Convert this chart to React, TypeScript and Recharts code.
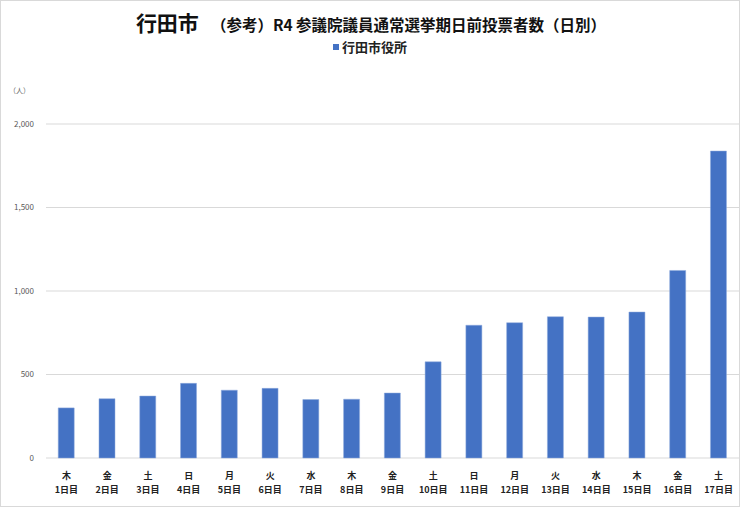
import React from 'react';
import { BarChart, Bar, XAxis, YAxis, CartesianGrid, Legend } from 'recharts';

const weekdays = ['木', '金', '土', '日', '月', '火', '水', '木', '金', '土', '日', '月', '火', '水', '木', '金', '土'];
const dayLabels = ['1日目', '2日目', '3日目', '4日目', '5日目', '6日目', '7日目', '8日目', '9日目', '10日目', '11日目', '12日目', '13日目', '14日目', '15日目', '16日目', '17日目'];
const voters = [300, 355, 371, 447, 406, 417, 350, 352, 389, 576, 795, 810, 846, 844, 874, 1123, 1838];
const yTicks = [0, 500, 1000, 1500, 2000];

const FONT = '"Noto Sans CJK JP", "Noto Sans", sans-serif';

const data = voters.map((v, i) => ({ name: dayLabels[i], weekday: weekdays[i], value: v }));

const DayTick = (props: any) => {
  const { x, y, payload } = props;
  const wd = weekdays[payload.index];
  return (
    <g transform={`translate(${x},${y})`}>
      <text x={0} y={13} textAnchor="middle" fontSize={9} fontWeight="bold" fill="#222" fontFamily={FONT}>
        {wd}
      </text>
      <text x={0} y={27} textAnchor="middle" fontSize={9} fontWeight="bold" fill="#222" fontFamily={FONT}>
        {payload.value}
      </text>
    </g>
  );
};

const LegendBox = () => (
  <div style={{ display: 'flex', justifyContent: 'center', alignItems: 'center', fontFamily: FONT }}>
    <span style={{ width: 6, height: 6, background: '#4472C4', marginRight: 3, display: 'inline-block' }} />
    <span style={{ fontSize: 13, fontWeight: 'bold', color: '#222' }}>行田市役所</span>
  </div>
);

export default function App() {
  return (
    <div
      style={{
        position: 'absolute',
        left: 0,
        top: 0,
        width: 740,
        height: 507,
        background: '#fff',
        border: '1px solid #d9d9d9',
        boxSizing: 'border-box',
        fontFamily: FONT,
      }}
    >
      <div
        style={{
          position: 'absolute',
          top: 6,
          left: 0,
          width: 740,
          textAlign: 'center',
          fontWeight: 'bold',
          color: '#111',
          whiteSpace: 'nowrap',
        }}
      >
        <span style={{ fontSize: 21, marginRight: 12 }}>行田市</span>
        <span style={{ fontSize: 15.5 }}>（参考）R4 参議院議員通常選挙期日前投票者数（日別）</span>
      </div>
      <div style={{ position: 'absolute', top: 84, left: 8, fontSize: 7, color: '#666' }}>（人）</div>
      <div style={{ position: 'absolute', top: -1, left: -1 }}>
        <BarChart width={740} height={507} data={data} margin={{ top: 105, right: 1, left: 0, bottom: 0 }} barCategoryGap="30%">
          <CartesianGrid vertical={false} stroke="#d9d9d9" />
          <XAxis
            dataKey="name"
            axisLine={false}
            tickLine={false}
            interval={0}
            height={49}
            tick={<DayTick />}
          />
          <YAxis
            domain={[0, 2000]}
            ticks={yTicks}
            width={46}
            axisLine={false}
            tickLine={false}
            tickFormatter={(v: number) => v.toLocaleString('en-US')}
            tick={{ fontSize: 8, fill: '#595959', fontFamily: FONT }}
            tickMargin={6}
          />
          <Legend verticalAlign="top" content={<LegendBox />} wrapperStyle={{ top: 37, left: 0, width: 740 }} />
          <Bar dataKey="value" fill="#4472C4" stroke="#8faadc" strokeWidth={0.5} isAnimationActive={false} />
        </BarChart>
      </div>
    </div>
  );
}
